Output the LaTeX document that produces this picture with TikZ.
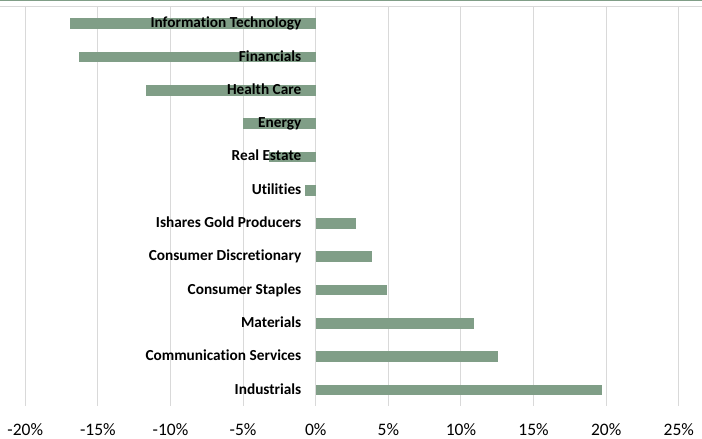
\documentclass[tikz,border=0pt]{standalone}
\usepackage{fontspec}
\setmainfont{Carlito}[RawFeature={-liga;-clig}]
\definecolor{barfill}{RGB}{128,158,135}
\definecolor{gridgray}{RGB}{217,217,217}

\begin{document}
\begin{tikzpicture}[x=14.524pt,y=-1pt,
    bar/.style={fill=barfill},
    grid line/.style={draw=gridgray,line width=1pt},
    cat label/.style={anchor=base east,inner sep=0pt,font=\fontsize{15.3}{18}\selectfont\bfseries},
    tick label/.style={anchor=base,inner sep=0pt,font=\fontsize{17.5}{20}\selectfont}]
  \useasboundingbox (-21.737,0) rectangle (26.598,439);
  % frame lines at the top
  \draw[barfill,line width=1.2pt] (-21.737,0.6) -- (26.598,0.6);
  \draw[gridgray,line width=1.5pt] (-21.737,6.5) -- (26.598,6.5);
  % grid and axis labels
  \foreach \g in {-20,-15,...,25}{
    \draw[grid line] (\g,7) -- (\g,406);
    \node[tick label] (tick\g) at (\g,436) {\g\%};
  }
  % bars
  \foreach \v/\name [count=\i from 0] in {-16.9/Information Technology,
      -16.3/Financials, -11.7/Health Care, -5.0/Energy, -3.2/Real Estate,
      -0.74/Utilities, 2.8/Ishares Gold Producers, 3.86/Consumer Discretionary,
      4.9/Consumer Staples, 10.9/Materials, 12.55/Communication Services,
      19.7/Industrials}{
    \fill[bar] (0,23.7+33.3*\i-5.35) rectangle (\v,23.7+33.3*\i+5.35);
    \node[cat label] (cat\i) at (-0.978,27.8+33.3*\i) {\name};
  }
\end{tikzpicture}
\end{document}
